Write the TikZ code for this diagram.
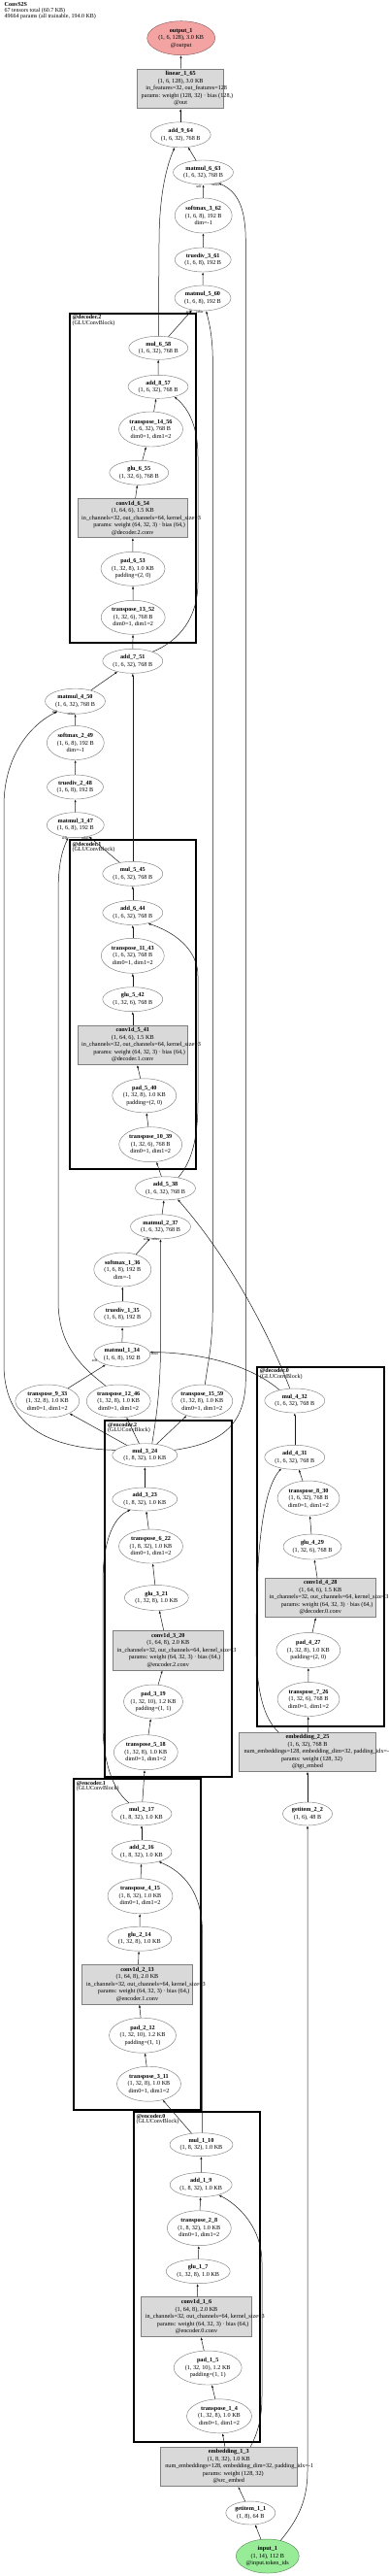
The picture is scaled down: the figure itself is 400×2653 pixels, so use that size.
\documentclass[tikz,border=0pt]{standalone}
\usepackage{fontspec}
\setmainfont{Liberation Serif}
\usetikzlibrary{shapes.geometric,arrows.meta}
\definecolor{edgecol}{HTML}{1A1A1A}
\definecolor{nodeborder}{HTML}{7F7F7F}
\definecolor{boxfill}{HTML}{D9D9D9}
\definecolor{outfill}{HTML}{F4A3A3}
\definecolor{outborder}{HTML}{8C5C5C}
\definecolor{infill}{HTML}{98EC98}
\definecolor{inborder}{HTML}{5C8C5C}
\newcommand\nf{\fontsize{6.2}{7.5}\selectfont}
\newcommand\cf{\fontsize{6}{5.4}\selectfont}
\newcommand\lf{\fontsize{3.8}{4.5}\selectfont}
\newcommand\zl[1]{\makebox[0pt]{#1}}
\newcommand\zs[1]{\makebox[0pt][l]{\sbox0{#1}\hspace*{-0.4285\wd0}\usebox0}}
\newcommand\ztwo[2]{\zl{\textbf{#1}}\\\zl{#2}}
\newcommand\zthree[3]{\zl{\textbf{#1}}\\\zl{#2}\\\zl{#3}}
\newcommand\zconv[3]{\zl{\textbf{#1}}\\\zl{#2}\\\zs{in\_channels=32, out\_channels=64, kernel\_size=3}\\\zs{params: weight (64, 32, 3) · bias (64,)}\\\zl{#3}}
\newcommand\opnd[6]{\node[opnode, minimum width=#4pt, minimum height=#5pt] (#1) at (#2,#3) {#6};}
\newcommand\bxnd[6]{\node[boxnode, minimum width=#4pt, minimum height=#5pt] (#1) at (#2,#3) {#6};}
\begin{document}
\begin{tikzpicture}[x=1pt,y=-1pt,
  opnode/.style={ellipse, draw=nodeborder, fill=white, line width=0.45pt, inner sep=0pt, align=center, font=\nf},
  boxnode/.style={rectangle, draw=nodeborder, fill=boxfill, line width=0.5pt, inner sep=0pt, align=center, font=\nf},
  conn/.style={draw=edgecol, line width=0.5pt, -{Latex[length=3pt,width=2.2pt]}},
  clusterbox/.style={draw=black, line width=1.8pt},
  clabel/.style={anchor=north west, align=left, inner sep=0pt, font=\cf},
  elab/.style={inner sep=0pt, font=\lf}]
\useasboundingbox (0,0) rectangle (400,2653);
\fill[white] (0,0) rectangle (400,2653);
% title
\node[anchor=north west, align=left, inner sep=0pt, font=\cf] (title) at (4.5,2.8) {\textbf{ConvS2S}\\67 tensors total (60.7 KB)\\49664 params (all trainable, 194.0 KB)};
% clusters
\draw[clusterbox] (71.7,322.7) rectangle (201.7,661.7);
\node[clabel] (cld2) at (74.4,324.6) {\textbf{@decoder.2}\\(GLUConvBlock)};
\draw[clusterbox] (71.7,865) rectangle (201.7,1204.3);
\node[clabel] (cld1) at (74.4,866.9) {\textbf{@decoder.1}\\(GLUConvBlock)};
\draw[clusterbox] (108.3,1463.3) rectangle (239,1830);
\node[clabel] (cle2) at (111,1465.2) {\textbf{@encoder.2}\\(GLUConvBlock)};
\draw[clusterbox] (265,1407.7) rectangle (395.7,1777.7);
\node[clabel] (cld0) at (267.7,1409.6) {\textbf{@decoder.0}\\(GLUConvBlock)};
\draw[clusterbox] (76,1832.3) rectangle (206.7,2172.7);
\node[clabel] (cle1) at (78.7,1834.2) {\textbf{@encoder.1}\\(GLUConvBlock)};
\draw[clusterbox] (137.7,2175) rectangle (267.7,2515);
\node[clabel] (cle0) at (140.4,2176.9) {\textbf{@encoder.0}\\(GLUConvBlock)};
% nodes
\node[opnode, fill=outfill, draw=outborder, minimum width=70pt, minimum height=35pt] (nout) at (186.7,39.2) {\zthree{output\_1}{(1, 6, 128), 3.0 KB}{@output}};
\bxnd{n65}{186.2}{91.3}{89}{40.7}{\zl{\textbf{linear\_1\_65}}\\\zl{(1, 6, 128), 3.0 KB}\\\zs{in\_features=32, out\_features=128}\\\zs{params: weight (128, 32) · bias (128,)}\\\zl{@out}}
\opnd{n64}{186.2}{138.8}{62}{26}{\ztwo{add\_9\_64}{(1, 6, 32), 768 B}}
\opnd{n63}{209.5}{177.5}{62}{25}{\ztwo{matmul\_6\_63}{(1, 6, 32), 768 B}}
\opnd{n62}{209.7}{222}{59}{36}{\zthree{softmax\_3\_62}{(1, 6, 8), 192 B}{dim=-1}}
\opnd{n61}{209.2}{267.5}{58}{25}{\ztwo{truediv\_3\_61}{(1, 6, 8), 192 B}}
\opnd{n60}{209}{307}{58}{26}{\ztwo{matmul\_5\_60}{(1, 6, 8), 192 B}}
\opnd{n58}{163.3}{358.3}{61}{24}{\ztwo{mul\_6\_58}{(1, 6, 32), 768 B}}
\opnd{n57}{163}{398.3}{62}{24}{\ztwo{add\_8\_57}{(1, 6, 32), 768 B}}
\opnd{n56}{155.5}{442}{66}{36}{\zthree{transpose\_14\_56}{(1, 6, 32), 768 B}{dim0=1, dim1=2}}
\opnd{n55}{143.3}{486.8}{61}{25}{\ztwo{glu\_6\_55}{(1, 32, 6), 768 B}}
\bxnd{n54}{136.8}{533.5}{113.7}{40.4}{\zconv{conv1d\_6\_54}{(1, 64, 6), 1.5 KB}{@decoder.2.conv}}
\opnd{n53}{137}{585.8}{66}{35}{\zthree{pad\_6\_53}{(1, 32, 8), 1.0 KB}{padding=(2, 0)}}
\opnd{n52}{137.2}{635.8}{66}{35}{\zthree{transpose\_13\_52}{(1, 32, 6), 768 B}{dim0=1, dim1=2}}
\opnd{n51}{136.8}{680.8}{62}{25}{\ztwo{add\_7\_51}{(1, 6, 32), 768 B}}
\opnd{n50}{77.5}{722.2}{62}{26}{\ztwo{matmul\_4\_50}{(1, 6, 32), 768 B}}
\opnd{n49}{77.8}{765}{59}{35}{\zthree{softmax\_2\_49}{(1, 6, 8), 192 B}{dim=-1}}
\opnd{n48}{77.5}{810.5}{58}{25}{\ztwo{truediv\_2\_48}{(1, 6, 8), 192 B}}
\opnd{n47}{77.8}{849.7}{59}{26}{\ztwo{matmul\_3\_47}{(1, 6, 8), 192 B}}
\opnd{n45}{136.8}{899.8}{62}{25}{\ztwo{mul\_5\_45}{(1, 6, 32), 768 B}}
\opnd{n44}{136.8}{940}{62}{25}{\ztwo{add\_6\_44}{(1, 6, 32), 768 B}}
\opnd{n43}{136.8}{984.3}{65}{36}{\zthree{transpose\_11\_43}{(1, 6, 32), 768 B}{dim0=1, dim1=2}}
\opnd{n42}{136.8}{1029.2}{62}{25}{\ztwo{glu\_5\_42}{(1, 32, 6), 768 B}}
\bxnd{n41}{136.8}{1076.3}{113.7}{40.7}{\zconv{conv1d\_5\_41}{(1, 64, 6), 1.5 KB}{@decoder.1.conv}}
\opnd{n40}{148.8}{1128.3}{66}{35}{\zthree{pad\_5\_40}{(1, 32, 8), 1.0 KB}{padding=(2, 0)}}
\opnd{n39}{155.2}{1178.7}{65}{36}{\zthree{transpose\_10\_39}{(1, 32, 6), 768 B}{dim0=1, dim1=2}}
\opnd{n38}{170.5}{1223.8}{62}{24}{\ztwo{add\_5\_38}{(1, 6, 32), 768 B}}
\opnd{n37}{165.5}{1263.3}{62}{25}{\ztwo{matmul\_2\_37}{(1, 6, 32), 768 B}}
\opnd{n36}{126.3}{1307.5}{59}{35}{\zthree{softmax\_1\_36}{(1, 6, 8), 192 B}{dim=-1}}
\opnd{n35}{126.3}{1353.7}{59}{26}{\ztwo{truediv\_1\_35}{(1, 6, 8), 192 B}}
\opnd{n34}{125.8}{1395}{58}{25}{\ztwo{matmul\_1\_34}{(1, 6, 8), 192 B}}
\opnd{n33}{48.8}{1443}{66}{34}{\zthree{transpose\_9\_33}{(1, 32, 8), 1.0 KB}{dim0=1, dim1=2}}
\opnd{n46}{122.2}{1443}{66}{34}{\zthree{transpose\_12\_46}{(1, 32, 8), 1.0 KB}{dim0=1, dim1=2}}
\opnd{n59}{208.3}{1443}{63}{34}{\zthree{transpose\_15\_59}{(1, 32, 8), 1.0 KB}{dim0=1, dim1=2}}
\opnd{n32}{303.8}{1442.5}{62}{25}{\ztwo{mul\_4\_32}{(1, 6, 32), 768 B}}
\opnd{n31}{303.8}{1500.8}{62}{25}{\ztwo{add\_4\_31}{(1, 6, 32), 768 B}}
\opnd{n30}{318}{1543}{64}{36}{\zthree{transpose\_8\_30}{(1, 6, 32), 768 B}{dim0=1, dim1=2}}
\opnd{n29}{322}{1593}{60}{26}{\ztwo{glu\_4\_29}{(1, 32, 6), 768 B}}
\bxnd{n28}{330.3}{1645.3}{114}{40.7}{\zconv{conv1d\_4\_28}{(1, 64, 6), 1.5 KB}{@decoder.0.conv}}
\opnd{n27}{317.8}{1699.5}{66}{36}{\zthree{pad\_4\_27}{(1, 32, 8), 1.0 KB}{padding=(2, 0)}}
\opnd{n26}{318}{1750}{64}{35}{\zthree{transpose\_7\_26}{(1, 32, 6), 768 B}{dim0=1, dim1=2}}
\bxnd{n25}{317}{1804.3}{140.6}{40}{\zl{\textbf{embedding\_2\_25}}\\\zl{(1, 6, 32), 768 B}\\\zs{num\_embeddings=128, embedding\_dim=32, padding\_idx=-1}\\\zs{params: weight (128, 32)}\\\zl{@tgt\_embed}}
\opnd{n2}{317}{1868}{51}{24}{\ztwo{getitem\_2\_2}{(1, 6), 48 B}}
\opnd{n24}{149.3}{1498.7}{67}{24}{\ztwo{mul\_3\_24}{(1, 8, 32), 1.0 KB}}
\opnd{n23}{149.3}{1544}{67}{24}{\ztwo{add\_3\_23}{(1, 8, 32), 1.0 KB}}
\opnd{n22}{155.5}{1592.5}{66}{35}{\zthree{transpose\_6\_22}{(1, 8, 32), 1.0 KB}{dim0=1, dim1=2}}
\opnd{n21}{161.3}{1645.5}{66}{26}{\ztwo{glu\_3\_21}{(1, 32, 8), 1.0 KB}}
\bxnd{n20}{173.3}{1699.7}{114.7}{40.7}{\zconv{conv1d\_3\_20}{(1, 64, 8), 2.0 KB}{@encoder.2.conv}}
\opnd{n19}{158}{1752.5}{61}{35}{\zthree{pad\_3\_19}{(1, 32, 10), 1.2 KB}{padding=(1, 1)}}
\opnd{n18}{150.3}{1804.7}{66}{36}{\zthree{transpose\_5\_18}{(1, 32, 8), 1.0 KB}{dim0=1, dim1=2}}
\opnd{n17}{146}{1867.8}{62}{24}{\ztwo{mul\_2\_17}{(1, 8, 32), 1.0 KB}}
\opnd{n16}{146}{1907.2}{62}{24}{\ztwo{add\_2\_16}{(1, 8, 32), 1.0 KB}}
\opnd{n15}{144.5}{1952.8}{67}{36}{\zthree{transpose\_4\_15}{(1, 8, 32), 1.0 KB}{dim0=1, dim1=2}}
\opnd{n14}{143.8}{1996.7}{66}{25}{\ztwo{glu\_2\_14}{(1, 32, 8), 1.0 KB}}
\bxnd{n13}{141.5}{2043.8}{114.4}{41}{\zconv{conv1d\_2\_13}{(1, 64, 8), 2.0 KB}{@encoder.1.conv}}
\opnd{n12}{147}{2096.2}{69}{36}{\zthree{pad\_2\_12}{(1, 32, 10), 1.2 KB}{padding=(1, 1)}}
\opnd{n11}{153.5}{2146.2}{66}{36}{\zthree{transpose\_3\_11}{(1, 32, 8), 1.0 KB}{dim0=1, dim1=2}}
\opnd{n10}{207.5}{2208.7}{65}{24}{\ztwo{mul\_1\_10}{(1, 8, 32), 1.0 KB}}
\opnd{n9}{207.2}{2250}{64}{25}{\ztwo{add\_1\_9}{(1, 8, 32), 1.0 KB}}
\opnd{n8}{205.3}{2294.7}{66}{36}{\zthree{transpose\_2\_8}{(1, 8, 32), 1.0 KB}{dim0=1, dim1=2}}
\opnd{n7}{204.2}{2339.2}{66}{25}{\ztwo{glu\_1\_7}{(1, 32, 8), 1.0 KB}}
\bxnd{n6}{202.5}{2386.2}{113.6}{41}{\zconv{conv1d\_1\_6}{(1, 64, 8), 2.0 KB}{@encoder.0.conv}}
\opnd{n5}{214.2}{2438.5}{70}{35}{\zthree{pad\_1\_5}{(1, 32, 10), 1.2 KB}{padding=(1, 1)}}
\opnd{n4}{226}{2488.3}{67}{35}{\zthree{transpose\_1\_4}{(1, 32, 8), 1.0 KB}{dim0=1, dim1=2}}
\bxnd{n3}{235.8}{2540.3}{140.3}{40.7}{\zl{\textbf{embedding\_1\_3}}\\\zl{(1, 8, 32), 1.0 KB}\\\zs{num\_embeddings=128, embedding\_dim=32, padding\_idx=-1}\\\zs{params: weight (128, 32)}\\\zl{@src\_embed}}
\opnd{n1}{258.3}{2588}{51}{24}{\ztwo{getitem\_1\_1}{(1, 8), 64 B}}
\node[opnode, fill=infill, draw=inborder, minimum width=65pt, minimum height=35pt] (nin) at (275.8,2632.5) {\zthree{input\_1}{(1, 14), 112 B}{@input.token\_ids}};
% edges: encoder
\draw[conn] (nin) -- (n1);
\draw[conn] (nin.50) .. controls (305,2597) and (317,2578) .. (317,2545) -- (n2);
\draw[conn] (n1) -- (n3);
\draw[conn] (n3) -- (n4);
\draw[conn] ([xshift=22.5pt]n3.north) .. controls (266,2505) and (270,2490) .. (270,2468) -- (270,2330) .. controls (270,2296) and (248,2272) .. (n9.-30);
\draw[conn] (n4) -- (n5);
\draw[conn] (n5) -- (n6);
\draw[conn] (n6) -- (n7);
\draw[conn] (n7) -- (n8);
\draw[conn] (n8) -- (n9);
\draw[conn] (n9) -- (n10);
\draw[conn] (n10) -- (n11);
\draw[conn] ([xshift=1pt]n10.north) -- (208.5,1990) .. controls (208.5,1950) and (190,1928) .. (n16.-30);
\draw[conn] (n11) -- (n12);
\draw[conn] (n12) -- (n13);
\draw[conn] (n13) -- (n14);
\draw[conn] (n14) -- (n15);
\draw[conn] (n15) -- (n16);
\draw[conn] (n16) -- (n17);
\draw[conn] (n17) -- (n18);
\draw[conn] (n17.140) .. controls (115,1842) and (106,1812) .. (106,1775) -- (106,1630) .. controls (106,1585) and (118,1562) .. (n23.-143);
\draw[conn] (n18) -- (n19);
\draw[conn] (n19) -- (n20);
\draw[conn] (n20) -- (n21);
\draw[conn] (n21) -- (n22);
\draw[conn] (n22) -- (n23);
\draw[conn] (n23) -- (n24);
% encoder output
\draw[conn] (n24) -- (n33);
\draw[conn] (n24) -- (n46);
\draw[conn] (n24) -- (n59);
\draw[conn] (n24.58) .. controls (162,1455) and (165.5,1425) .. (165.5,1385) -- (n37);
\draw[conn] (n24.170) .. controls (60,1492) and (4,1475) .. (4,1405) -- (4,830) .. controls (4,778) and (32,746) .. (n50.-150);
\draw[conn] (n24.10) .. controls (225,1487) and (253.3,1470) .. (253.3,1420) -- (253.3,250) .. controls (253.3,215) and (246,198) .. (n63.-35);
% decoder 0
\draw[conn] (n2) -- (n25);
\draw[conn] (n25) -- (n26);
\draw[conn] ([xshift=-29.7pt]n25.north) .. controls (272,1770) and (264,1742) .. (264,1692) .. controls (264,1600) and (270,1535) .. (n31.-140);
\draw[conn] (n26) -- (n27);
\draw[conn] (n27) -- (n28);
\draw[conn] (n28) -- (n29);
\draw[conn] (n29) -- (n30);
\draw[conn] (n30) -- (n31);
\draw[conn] (n31) -- (n32);
% attention 1
\draw[conn] (n33) -- (n34);
\draw[conn] (n32.145) .. controls (255,1403) and (200,1393) .. (n34.5);
\draw[conn] (n34) -- (n35);
\draw[conn] (n35) -- (n36);
\draw[conn] (n36) -- (n37);
\draw[conn] (n37) -- (n38);
\draw[conn] (n32.112) .. controls (280,1380) and (240,1300) .. (n38.-42);
% decoder 1
\draw[conn] (n38) -- (n39);
\draw[conn] (n38.40) .. controls (198,1196) and (204,1172) .. (204,1135) -- (204,1005) .. controls (204,978) and (180,960) .. (n44.-35);
\draw[conn] (n39) -- (n40);
\draw[conn] (n40) -- (n41);
\draw[conn] (n41) -- (n42);
\draw[conn] (n42) -- (n43);
\draw[conn] (n43) -- (n44);
\draw[conn] (n44) -- (n45);
% attention 2
\draw[conn] (n45) -- (n47);
\draw[conn] (n46.130) .. controls (80,1405) and (60,1382) .. (60,1340) -- (60,920) .. controls (60,890) and (64,876) .. (n47.-120);
\draw[conn] (n47) -- (n48);
\draw[conn] (n48) -- (n49);
\draw[conn] (n49) -- (n50);
\draw[conn] (n50) -- (n51);
\draw[conn] (n45) -- (n51);
% decoder 2
\draw[conn] (n51) -- (n52);
\draw[conn] (n51.25) .. controls (185,660) and (204,636) .. (204,600) -- (204,470) .. controls (204,440) and (195,421) .. (n57.-32);
\draw[conn] (n52) -- (n53);
\draw[conn] (n53) -- (n54);
\draw[conn] (n54) -- (n55);
\draw[conn] (n55) -- (n56);
\draw[conn] (n56) -- (n57);
\draw[conn] (n57) -- (n58);
% attention 3
\draw[conn] (n58) -- (n60);
\draw[conn] (n59.80) .. controls (214,1405) and (219.3,1385) .. (219.3,1345) -- (219.3,372) .. controls (219.3,345) and (215,330) .. (n60.-75);
\draw[conn] (n60) -- (n61);
\draw[conn] (n61) -- (n62);
\draw[conn] (n62) -- (n63);
\draw[conn] (n63) -- (n64);
\draw[conn] (n58.north) -- (164,250) .. controls (164,200) and (172,170) .. (n64.-115);
\draw[conn] (n64) -- (n65);
\draw[conn] (n65) -- (nout);
% edge labels
\node[elab] (la63) at (205,191.8) {self};
\node[elab] (lb63) at (222.5,190.5) {other};
\node[elab] (la60) at (194.5,320.8) {self};
\node[elab] (lb60) at (205.8,320.8) {other};
\node[elab] (la34) at (97.7,1401) {self};
\node[elab] (lb34) at (159.5,1394) {other};
\node[elab] (la37) at (150.5,1276.2) {self};
\node[elab] (lb37) at (160.5,1276.2) {other};
\node[elab] (la47) at (66.5,863.5) {self};
\node[elab] (lb47) at (88,863) {other};
\node[elab] (la50) at (56.5,733) {self};
\node[elab] (lb50) at (73.5,735) {other};
\end{tikzpicture}
\end{document}
